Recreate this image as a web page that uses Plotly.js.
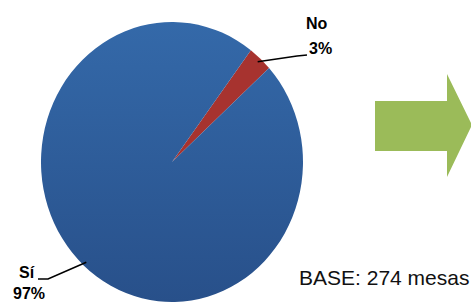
<!DOCTYPE html>
<html>
<head>
<meta charset="utf-8">
<script src="https://cdn.plot.ly/plotly-3.0.1.min.js"></script>
<style>
html,body{margin:0;padding:0;background:#fff;}
#chart{width:471px;height:303px;}
</style>
</head>
<body>
<div id="chart"></div>
<script>
// ---- data ----
const labels = ['No', 'Sí'];
const values = [3, 97];
const percentLabels = ['3%', '97%'];
const sliceColors = ['#A7332F', '#2F5D9A'];
const baseNote = 'BASE: 274 mesas';

// ---- geometry (pixels) ----
const W = 471, H = 303;
const cx = 172, cy = 162, rx = 131, ry = 140;
const rotation = 37;
const px = x => x / W;
const py = y => 1 - y / H;

// point on the pie rim at the middle of slice i (computed from the data)
const total = values.reduce((a, b) => a + b, 0);
function midPoint(i, f) {
  let cum = 0;
  for (let k = 0; k < i; k++) cum += values[k];
  const ang = (rotation + (cum + values[i] / 2) / total * 360) * Math.PI / 180;
  return [cx + f * rx * Math.sin(ang), cy - f * ry * Math.cos(ang)];
}
const pNo = midPoint(0, 0.97);
const pSi = midPoint(1, 0.97);

function pathPx(pts) {
  return pts.map((p, i) => (i ? 'L' : 'M') + px(p[0]) + ',' + py(p[1])).join(' ');
}

const trace = {
  type: 'pie',
  labels: labels,
  values: values,
  sort: false,
  direction: 'clockwise',
  rotation: rotation,
  textinfo: 'none',
  hoverinfo: 'none',
  marker: { colors: sliceColors, line: { width: 0 } },
  domain: { x: [(cx - rx) / W, (cx + rx) / W], y: [py(cy + rx), py(cy - rx)] },
  showlegend: false
};

const labelFont = { family: 'Liberation Sans, Arial, sans-serif', size: 16, color: '#000', weight: 'bold' };

const layout = {
  width: W, height: H,
  margin: { l: 0, r: 0, t: 0, b: 0 },
  paper_bgcolor: '#fff',
  showlegend: false,
  shapes: [
    // green arrow
    { type: 'path', xref: 'paper', yref: 'paper',
      path: pathPx([[375, 101], [447, 101], [447, 74], [472, 125], [447, 177], [447, 151], [375, 151]]) + ' Z',
      fillcolor: '#9BBB59', line: { width: 0 } },
    // leader lines
    { type: 'path', xref: 'paper', yref: 'paper',
      path: pathPx([pNo, [297, 56], [307, 55]]),
      line: { color: '#000', width: 1.6 } },
    { type: 'path', xref: 'paper', yref: 'paper',
      path: pathPx([pSi, [48, 279], [38, 279]]),
      line: { color: '#000', width: 1.6 } }
  ],
  annotations: [
    { xref: 'paper', yref: 'paper', x: px(317), y: py(23), text: '<b>' + labels[0] + '</b>', showarrow: false, font: labelFont, xanchor: 'center', yanchor: 'middle' },
    { xref: 'paper', yref: 'paper', x: px(320), y: py(49), text: '<b>' + percentLabels[0] + '</b>', showarrow: false, font: labelFont, xanchor: 'center', yanchor: 'middle' },
    { xref: 'paper', yref: 'paper', x: px(27), y: py(272), text: '<b>' + labels[1] + '</b>', showarrow: false, font: labelFont, xanchor: 'center', yanchor: 'middle' },
    { xref: 'paper', yref: 'paper', x: px(29), y: py(293), text: '<b>' + percentLabels[1] + '</b>', showarrow: false, font: labelFont, xanchor: 'center', yanchor: 'middle' },
    { xref: 'paper', yref: 'paper', x: px(384), y: py(277), text: baseNote, showarrow: false,
      font: { family: 'Liberation Sans, Arial, sans-serif', size: 21, color: '#111' }, xanchor: 'center', yanchor: 'middle' }
  ]
};

Plotly.newPlot('chart', [trace], layout, { staticPlot: true }).then(function (gd) {
  // stretch the circular pie into the slightly tall ellipse of the reference
  const k = ry / rx;
  const pl = gd.querySelector('.pielayer');
  if (pl) pl.setAttribute('transform', 'translate(0,' + cy + ') scale(1,' + k + ') translate(0,' + (-cy) + ')');
  // soft vertical gradient on the big slice
  const svg = gd.querySelector('svg.main-svg');
  let defs = svg.querySelector('defs');
  if (!defs) { defs = document.createElementNS('http://www.w3.org/2000/svg', 'defs'); svg.insertBefore(defs, svg.firstChild); }
  const ns = 'http://www.w3.org/2000/svg';
  const g = document.createElementNS(ns, 'linearGradient');
  g.setAttribute('id', 'siGrad');
  g.setAttribute('x1', '0'); g.setAttribute('y1', '0'); g.setAttribute('x2', '0'); g.setAttribute('y2', '1');
  [['0', '#3469A9'], ['1', '#28508A']].forEach(function (s) {
    const st = document.createElementNS(ns, 'stop');
    st.setAttribute('offset', s[0]); st.setAttribute('stop-color', s[1]);
    g.appendChild(st);
  });
  defs.appendChild(g);
  const paths = gd.querySelectorAll('.pielayer path.surface');
  if (paths.length > 1) paths[1].style.fill = 'url(#siGrad)';
});
</script>
</body>
</html>
